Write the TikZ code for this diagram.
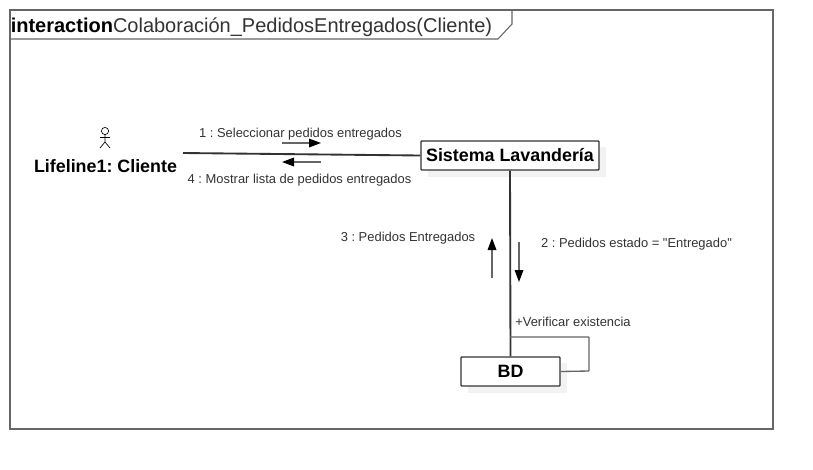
\documentclass[tikz,border=0pt]{standalone}
\usepackage{fontspec}
\setmainfont{Liberation Sans}
\newfontfamily\labelfont{Liberation Sans}
\frenchspacing
\usetikzlibrary{arrows.meta}
\definecolor{linegray}{HTML}{666666}
\definecolor{darkline}{HTML}{333333}
\definecolor{shadowgray}{HTML}{F2F2F2}
\tikzset{
  objbox/.style={draw=darkline, line width=1pt, fill=white, rounded corners=0.6pt, inner sep=0pt, font=\fontsize{13.4}{15}\selectfont\bfseries, text=black, text height=9.6pt, text depth=1.2pt},
  msglabel/.style={font=\labelfont\fontsize{9.7}{11}\selectfont, text=darkline, inner sep=0pt},
  msgarrow/.style={draw=linegray, line width=0.9pt, -{Stealth[length=9pt,width=6.5pt,inset=0pt,black]}},
  linkline/.style={draw=darkline, line width=1.4pt}
}
\begin{document}
\begin{tikzpicture}[x=0.75pt, y=-0.75pt]
  \useasboundingbox (0,0) rectangle (813,469);
  \fill[white] (0,0) rectangle (813,469);

  \draw[linegray, line width=0.8pt] (10,10) rectangle (773,429);
  \draw[linegray, line width=0.8pt] (10,39) -- (498,39) -- (512,24) -- (512,10);
  \node[anchor=base west, inner sep=0pt, font=\fontsize{15}{18}\selectfont, text=darkline] (title) at (10.5,32)
    {\textcolor{black}{\textbf{interaction}}Colaboración\_PedidosEntregados(Cliente)};

  \fill[shadowgray] (428,147) rectangle (606,177);
  \fill[shadowgray] (468,363) rectangle (567,393);
  \node[objbox, minimum width=133.5pt, minimum height=21.75pt] (sistema) at (510,155.5) {Sistema Lavandería};
  \node[objbox, minimum width=74.25pt, minimum height=21.75pt] (bd) at (510.5,371.5) {BD};

  \coordinate (head) at (105,131);
  \draw[black, line width=0.5pt] (head) circle (2.7pt);
  \draw[black, line width=0.5pt] (105,134.5) -- (105,142) (100,137.5) -- (110,137.5)
    (100,148) -- (105,142) -- (110,148);
  \node[font=\fontsize{13.4}{15}\selectfont\bfseries, text=black, inner sep=0pt] (cliente) at (105.5,166) {Lifeline1: Cliente};

  \coordinate (clienteend) at (183,153);
  \draw[linkline] (clienteend) -- (sistema.west);
  \draw[linkline] (sistema.south) -- (bd.north);

  \coordinate (loopstart) at (510,337);
  \draw[linegray, line width=1pt, rounded corners=0.5pt] (loopstart) -- (589,337) -- (589,371) -- (bd.east);

  \coordinate (m1a) at (282,143);
  \coordinate (m1b) at (321,143);
  \coordinate (m4a) at (321,162);
  \coordinate (m4b) at (282,162);
  \coordinate (m3a) at (492,278);
  \coordinate (m3b) at (492,238);
  \coordinate (m2a) at (519,242);
  \coordinate (m2b) at (519,282);
  \draw[msgarrow] (m1a) -- (m1b);
  \draw[msgarrow] (m4a) -- (m4b);
  \draw[msgarrow] (m3a) -- (m3b);
  \draw[msgarrow] (m2a) -- (m2b);

  \node[msglabel] (msg1) at (300.5,134) {1 : Seleccionar pedidos entregados};
  \node[msglabel] (msg4) at (299.5,180) {4 : Mostrar lista de pedidos entregados};
  \node[msglabel] (msg3) at (408,238) {3 : Pedidos Entregados};
  \node[msglabel] (msg2) at (636.5,244) {2 : Pedidos estado = "Entregado"};
  \node[msglabel] (msg5) at (573,321.5) {+Verificar existencia};
\end{tikzpicture}
\end{document}
